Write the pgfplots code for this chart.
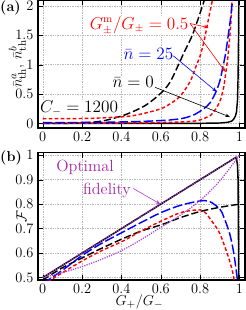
\documentclass[border=0pt,11pt]{standalone}
\usepackage{pgfplots}
\pgfplotsset{compat=1.18}
\usetikzlibrary{calc,arrows.meta}
\definecolor{optc}{RGB}{165,40,165}
\definecolor{dotc}{RGB}{175,60,215}
\begin{document}
\begin{tikzpicture}
\pgfplotsset{every axis/.append style={scale only axis, width=172.5pt,
  xmin=-0.024, xmax=1.028, xtick={0,0.2,0.4,0.6,0.8,1},
  grid=major, grid style={densely dotted, gray!55},
  axis line style={line width=1pt}, tick style={black},
  label style={font=\fontsize{13}{15}\selectfont},
  tick label style={font=\fontsize{12}{14}\selectfont}}}
\begin{axis}[name=a, height=106.7pt, ymin=-0.077, ymax=2.1, ytick={0,0.5,1,1.5,2},
  ylabel={$\bar n^a_{\rm th},\, \bar n^b_{\rm th}$},
  ylabel style={at={(axis description cs:-0.1,0.5)}, anchor=center}]
\coordinate (ane) at (rel axis cs:1,1);
\coordinate (anw) at (rel axis cs:0,1);
% black solid
\addplot[black, line width=1.2pt] coordinates {(0,0) (0.5,0.0005) (0.8,0.003) (0.9,0.008) (0.94,0.02) (0.96,0.04) (0.97,0.07) (0.98,0.13) (0.985,0.2) (0.99,0.4) (0.993,0.8) (0.995,1.4) (0.997,2.3)};
% black dashed
\addplot[black, line width=1.2pt, dash pattern=on 6pt off 2.5pt, smooth] coordinates {(0,0) (0.1,0.002) (0.2,0.01) (0.3,0.04) (0.394,0.12) (0.45,0.19) (0.513,0.29) (0.56,0.4) (0.614,0.56) (0.65,0.72) (0.69,1.0) (0.72,1.22) (0.759,1.49) (0.79,1.78) (0.815,2.03) (0.83,2.2)};
% red left
\addplot[red, line width=1.2pt, dash pattern=on 3pt off 2pt, smooth] coordinates {(0,0.08) (0.2,0.085) (0.3,0.095) (0.428,0.12) (0.5,0.16) (0.6,0.25) (0.65,0.34) (0.7,0.47) (0.75,0.72) (0.78,0.98) (0.8,1.15) (0.82,1.4) (0.835,1.65) (0.85,1.9) (0.866,2.15)};
% red right
\addplot[red, line width=1.2pt, dash pattern=on 3pt off 2pt, smooth] coordinates {(0,0.005) (0.3,0.006) (0.5,0.01) (0.65,0.02) (0.75,0.035) (0.8,0.06) (0.853,0.14) (0.88,0.25) (0.903,0.4) (0.92,0.62) (0.93,0.85) (0.94,1.1) (0.95,1.45) (0.957,1.75) (0.963,2.15)};
% blue
\addplot[blue, line width=1.2pt, dash pattern=on 8pt off 2.5pt, smooth] coordinates {(0,0.015) (0.3,0.02) (0.5,0.035) (0.6,0.05) (0.648,0.06) (0.716,0.09) (0.77,0.15) (0.818,0.25) (0.85,0.35) (0.878,0.52) (0.9,0.72) (0.915,0.95) (0.93,1.2) (0.945,1.55) (0.955,1.8) (0.968,2.2)};
\node[red, font=\fontsize{13.5}{15}\selectfont, fill=white, inner sep=0.5pt] at (0.49,1.67) {$G^{\rm m}_{\pm}/G_{\pm} = 0.5$};
\node[blue, font=\fontsize{13.5}{15}\selectfont, fill=white, inner sep=0.5pt] at (0.537,1.18) {$\bar n = 25$};
\node[black, font=\fontsize{13.5}{15}\selectfont, fill=white, inner sep=0.5pt] at (0.46,0.70) {$\bar n = 0$};
\node[black, font=\fontsize{13.5}{15}\selectfont, fill=white, inner sep=0.5pt] at (0.185,0.26) {$C_- = 1200$};
\draw[red, line width=0.5pt, -{Stealth[length=4pt,width=3pt]}] (0.749,1.70) -- (0.843,1.63);
\draw[red, line width=0.5pt, -{Stealth[length=4pt,width=3pt]}] (0.749,1.70) -- (0.928,0.88);
\draw[blue, line width=0.5pt, -{Stealth[length=4pt,width=3pt]}] (0.664,1.15) -- (0.884,0.54);
\draw[black, line width=0.5pt, -{Stealth[length=4pt,width=3pt]}] (0.571,0.615) -- (0.952,0.11);
\end{axis}
\begin{axis}[at={($(a.south west)+(0,-20.6pt)$)}, anchor=north west,
  height=106.1pt, ymin=0.49, ymax=1.01, ytick={0.5,0.6,0.7,0.8,0.9,1},
  xlabel={$G_+/G_-$}, ylabel={$\mathcal{F}$},
  xlabel style={at={(axis description cs:0.49,-0.17)}, anchor=center},
  ylabel style={at={(axis description cs:-0.08,0.5)}, anchor=center}]
\coordinate (bsw) at (rel axis cs:0,0);
\coordinate (bnw) at (rel axis cs:0,1);
% black dashed
\addplot[black, line width=1.2pt, dash pattern=on 6pt off 2.5pt, smooth] coordinates {(0,0.49) (0.1,0.54) (0.2,0.58) (0.3,0.62) (0.41,0.66) (0.5,0.69) (0.6,0.715) (0.7,0.745) (0.8,0.77) (0.9,0.787) (1.0,0.80)};
% red
\addplot[red, line width=1.2pt, dash pattern=on 3pt off 2pt, smooth] coordinates {(0,0.47) (0.1,0.52) (0.207,0.571) (0.3,0.61) (0.41,0.65) (0.5,0.69) (0.6,0.73) (0.7,0.765) (0.78,0.776) (0.82,0.77) (0.869,0.72) (0.9,0.68) (0.937,0.60) (0.96,0.54) (0.971,0.50) (0.975,0.47)};
% blue
\addplot[blue, line width=1.2pt, dash pattern=on 8pt off 2.5pt, smooth] coordinates {(0,0.475) (0.1,0.53) (0.2,0.59) (0.3,0.64) (0.41,0.687) (0.5,0.725) (0.6,0.765) (0.7,0.795) (0.8,0.813) (0.85,0.81) (0.9,0.78) (0.92,0.748) (0.95,0.68) (0.971,0.60) (0.988,0.50) (0.992,0.47)};
% black solid
\addplot[black, line width=1.3pt] coordinates {(0,0.5) (0.97,0.985) (0.98,0.99) (0.985,0.985) (0.99,0.96) (0.993,0.90) (0.995,0.7) (0.996,0.47)};
% optimal fidelity dotted
\addplot[dotc, line width=1pt, densely dotted] coordinates {(0,0.5) (1,1)};
\addplot[dotc, line width=1pt, densely dotted, smooth] coordinates {(0,0.5) (0.1,0.52) (0.2,0.545) (0.3,0.575) (0.4,0.61) (0.5,0.655) (0.6,0.705) (0.7,0.755) (0.8,0.815) (0.9,0.895) (1.0,1.0)};
\node[optc, font=\fontsize{13.5}{15}\selectfont] at (0.215,0.952) {Optimal};
\node[optc, font=\fontsize{13.5}{15}\selectfont] at (0.326,0.857) {fidelity};
\draw[dotc, line width=0.5pt, -{Stealth[length=4pt,width=3pt]}] (0.46,0.864) -- (0.598,0.80);
\end{axis}
\node[anchor=west, font=\fontsize{12}{14}\selectfont\bfseries, inner sep=0pt] at ($(anw)+(-31.7pt,-6.8pt)$) {(a)};
\node[anchor=west, font=\fontsize{12}{14}\selectfont\bfseries, inner sep=0pt] at ($(bnw)+(-31.7pt,-4.5pt)$) {(b)};
\pgfresetboundingbox
\path[use as bounding box] ($(bsw)+(-31.7pt,-25pt)$) rectangle ($(ane)+(0.8pt,0pt)$);
\end{tikzpicture}
\end{document}
